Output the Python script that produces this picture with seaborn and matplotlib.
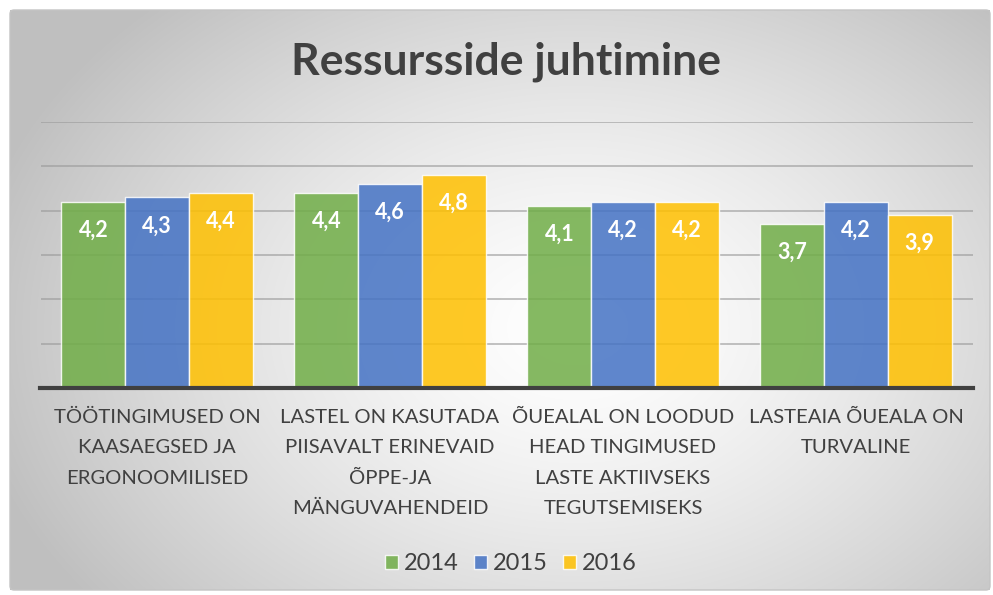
import numpy as np
import pandas as pd
import matplotlib
matplotlib.use("Agg")
import matplotlib.pyplot as plt
import seaborn as sns
from matplotlib.patches import FancyBboxPatch

categories = [
    "TÖÖTINGIMUSED ON\nKAASAEGSED JA\nERGONOOMILISED",
    "LASTEL ON KASUTADA\nPIISAVALT ERINEVAID\nÕPPE-JA\nMÄNGUVAHENDEID",
    "ÕUEALAL ON LOODUD\nHEAD TINGIMUSED\nLASTE AKTIIVSEKS\nTEGUTSEMISEKS",
    "LASTEAIA ÕUEALA ON\nTURVALINE",
]
years = ["2014", "2015", "2016"]
v2014 = [4.2, 4.4, 4.1, 3.7]
v2015 = [4.3, 4.6, 4.2, 4.2]
v2016 = [4.4, 4.8, 4.2, 3.9]
colors = ["#70AD47", "#4472C4", "#FFC000"]
title = "Ressursside juhtimine"

rows = []
for yr, vals in zip(years, [v2014, v2015, v2016]):
    for c, v in zip(categories, vals):
        rows.append({"cat": c, "year": yr, "val": v})
df = pd.DataFrame(rows)

sns.set_theme(style="white")
FONT = "Lato"
plt.rcParams["font.family"] = [FONT, "DejaVu Sans"]

W, H = 993, 595
fig = plt.figure(figsize=(W / 100, H / 100), dpi=100)

# background radial gradient
bg = fig.add_axes([0, 0, 1, 1], zorder=-10)
yy, xx = np.mgrid[0:H, 0:W]
cx, cy = 0.58 * W, 0.55 * H
r = np.sqrt(((xx - cx) / (0.62 * W)) ** 2 + ((yy - cy) / (0.75 * H)) ** 2)
r = np.clip(r, 0, 1)
lum = 1.0 - 0.25 * r ** 1.4
img = np.dstack([lum, lum, lum])
mask = np.zeros((H, W), bool)
mask[10:590, 10:990] = True
img[~mask] = 1.0
bg.imshow(img, extent=[0, W, H, 0], aspect="auto", interpolation="bilinear")
bg.add_patch(FancyBboxPatch((10, 10), 980, 580, boxstyle="round,pad=0,rounding_size=4",
                            fill=False, edgecolor="#c4c4c4", linewidth=1.0))
bg.set_xlim(0, W)
bg.set_ylim(H, 0)
bg.axis("off")

ax = fig.add_axes([40.5 / W, 1 - 388 / H, 932 / W, (388 - 122) / H])
ax.set_facecolor("none")
sns.barplot(data=df, x="cat", y="val", hue="year", palette=colors, width=0.82,
            saturation=1, alpha=0.85, edgecolor=(1, 1, 1, 0.6), linewidth=1,
            ax=ax, zorder=3)
ax.set_ylim(0, 6)
ax.set_xlim(-0.5, 3.5)
ax.set_yticks([1, 2, 3, 4, 5, 6])
ax.yaxis.grid(True, color="#9a9a9a", linewidth=1.2, alpha=0.7, zorder=0)
ax.set_axisbelow(True)
ax.tick_params(axis="y", left=False, labelleft=False)
ax.tick_params(axis="x", bottom=False, pad=9)
for s in ["top", "right", "left"]:
    ax.spines[s].set_visible(False)
ax.spines["bottom"].set_color("#404040")
ax.spines["bottom"].set_linewidth(3)
ax.spines["bottom"].set_zorder(5)
ax.set_xlabel("")
ax.set_ylabel("")
ax.set_xticks(range(len(categories)))
ax.set_xticklabels(categories, fontsize=14.6, color="#404040", linespacing=1.95,
                   ha="center", va="top")

for cont in ax.containers:
    for bar in cont:
        h = bar.get_height()
        ax.text(bar.get_x() + bar.get_width() / 2, h - 0.64,
                f"{h:.1f}".replace(".", ","), ha="center", va="center",
                color="white", fontsize=15.5, fontweight="bold", zorder=6)

leg = ax.legend(loc="center", bbox_to_anchor=((510.5 - 40.5) / 932, (388 - 564) / 266),
                ncol=3, frameon=False, fontsize=17, handlelength=0.55, handleheight=0.55,
                handletextpad=0.25, columnspacing=0.65)
for t in leg.get_texts():
    t.set_color("#404040")

fig.text(506 / W, 1 - 62 / H, title, ha="center", va="center", fontsize=32,
         fontweight="bold", color="#404040")

fig.savefig("out.png", dpi=100)
